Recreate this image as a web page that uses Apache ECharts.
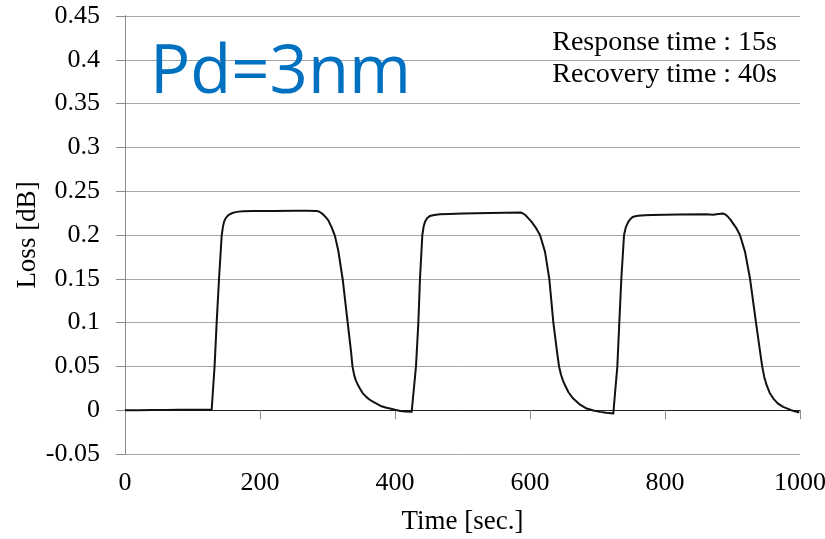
<!DOCTYPE html>
<html>
<head>
<meta charset="utf-8">
<script src="https://cdn.jsdelivr.net/npm/echarts@6/dist/echarts.min.js"></script>
<style>
html,body{margin:0;padding:0;background:#fff;}
#c{width:825px;height:539px;}
</style>
</head>
<body>
<div id="c"></div>
<script>
// Time [sec.]
var timeSec = [0,20,40,60,80,100,120,128.4,
  132.7,135.8,139.3,143.2,145,146.7,149,153,158,165.4,175,190,220,250,270,284,
  288,292,296,301,306,311,316,322.5,329.9,335,337,339.5,342,345,348,352,357,362,367.8,374,380,386,392.6,400,408,416,424.7,
  427,431.1,434.6,437,440.5,442.5,444.4,447.5,451.9,458,466.7,480,500,540,586,
  589,593,597,602.4,608,614.8,622.2,628.6,634.6,640,643,646,649,651.9,657,664,673,684,694,703.7,713,723.4,
  726,729.4,732.3,735.3,739.3,742,745.6,748.5,752,756,760,770,780,820,860,872,876,885.5,
  889,893,897,901,906,911,918.5,926,934.8,941,944,947,950.6,955,960.5,967,975,987,999];
// Loss [dB]
var lossDb = [0,0,0.0003,0.0003,0.0005,0.0005,0.0005,0.0005,
  0.05,0.1,0.15,0.199,0.209,0.215,0.219,0.2226,0.2248,0.2264,0.227,0.2275,0.2275,0.2277,0.2276,0.2275,
  0.2265,0.2245,0.2215,0.217,0.209,0.199,0.182,0.1495,0.1,0.066,0.05,0.04,0.034,0.029,0.0248,0.0195,0.0155,0.0122,0.0095,0.007,0.0045,0.003,0.0019,0.0005,-0.0008,-0.0015,-0.0019,
  -0.0019,0.05,0.1,0.15,0.2,0.21,0.215,0.2192,0.2218,0.2229,0.2237,0.2241,0.2245,0.2252,0.2257,
  0.2248,0.2228,0.2195,0.215,0.209,0.2,0.181,0.15,0.1,0.067,0.05,0.0405,0.0335,0.0285,0.0205,0.0133,0.007,0.0019,-0.0003,-0.0019,-0.003,-0.0038,
  -0.0038,0.05,0.1,0.15,0.2,0.209,0.215,0.218,0.2205,0.2214,0.222,0.2225,0.2228,0.2233,0.2237,0.2232,0.2237,0.2245,
  0.2236,0.221,0.2175,0.213,0.2075,0.2,0.181,0.15,0.1,0.066,0.05,0.038,0.0285,0.02,0.0133,0.0078,0.0038,0,-0.0027];
var yTicks = [-0.05,0,0.05,0.1,0.15,0.2,0.25,0.3,0.35,0.4,0.45];
var xTicks = [0,200,400,600,800,1000];

var pts = timeSec.map(function(t,i){return [t, lossDb[i]];});
var serif = 'Liberation Serif';
var chart = echarts.init(document.getElementById('c'));
chart.setOption({
  animation:false,
  backgroundColor:'#fff',
  grid:{left:125,right:25,top:16,bottom:85,show:false,containLabel:false,outerBoundsMode:'none'},
  xAxis:[{
    type:'value',min:0,max:1000,interval:200,
    name:'Time [sec.]',nameLocation:'middle',nameGap:54,nameMoveOverlap:false,
    nameTextStyle:{fontFamily:serif,fontSize:27,color:'#000'},
    axisLine:{show:true,lineStyle:{color:'#8c8c8c',width:1}},
    axisTick:{show:true,inside:false,length:9,lineStyle:{color:'#8c8c8c'}},
    axisLabel:{fontFamily:serif,fontSize:26,color:'#000',margin:16,hideOverlap:false,
      formatter:function(v){return xTicks.indexOf(v)>=0?String(v):'';}},
    splitLine:{show:false}
  },{
    type:'value',min:0,max:1000,position:'top',
    axisLine:{show:true,lineStyle:{color:'#222',width:1}},
    axisTick:{show:false},axisLabel:{show:false},splitLine:{show:false}
  }],
  yAxis:[{
    type:'value',min:-0.05,max:0.45,interval:0.05,
    name:'Loss [dB]',nameLocation:'middle',nameGap:84,nameMoveOverlap:false,
    nameTextStyle:{fontFamily:serif,fontSize:27,color:'#000'},
    axisLine:{show:true,lineStyle:{color:'#8c8c8c',width:1}},
    axisTick:{show:true,inside:false,length:9,lineStyle:{color:'#8c8c8c'}},
    axisLabel:{fontFamily:serif,fontSize:26,color:'#000',margin:25,
      formatter:function(v){
        var r = Math.round(v*100)/100;
        for (var i=0;i<yTicks.length;i++){ if (Math.abs(yTicks[i]-r)<1e-9) return String(yTicks[i]); }
        return '';
      }},
    splitLine:{show:true,lineStyle:{color:'#a6a6a6',width:1}}
  },{
    type:'value',min:-0.05,max:0.45,position:'right',
    axisLine:{show:true,lineStyle:{color:'#8c8c8c',width:1}},
    axisTick:{show:false},axisLabel:{show:false},splitLine:{show:false}
  }],
  series:[{
    type:'line',data:pts,showSymbol:false,symbol:'none',
    smooth:false,
    lineStyle:{color:'#111',width:2,join:'round'},
    z:5
  }],
  graphic:[
    {type:'text',left:150,top:40,z:10,
     style:{text:'Pd=3nm',fill:'#0070C0',font:'67px "Open Sans", "Noto Sans", sans-serif'}},
    {type:'text',right:48,top:29,z:10,
     style:{text:'Response time : 15s',fill:'#000',font:'28px "Liberation Serif", serif',textAlign:'right'}},
    {type:'text',right:48,top:61,z:10,
     style:{text:'Recovery time : 40s',fill:'#000',font:'28px "Liberation Serif", serif',textAlign:'right'}}
  ]
});
</script>
</body>
</html>
